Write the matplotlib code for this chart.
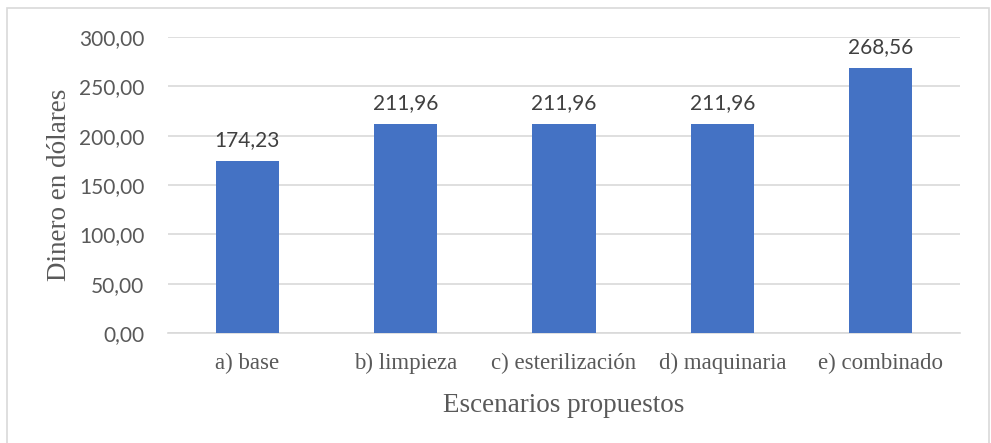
import matplotlib
matplotlib.use("Agg")
import matplotlib.pyplot as plt
from matplotlib.patches import Rectangle

categories = ["a) base", "b) limpieza", "c) esterilización", "d) maquinaria", "e) combinado"]
values = [174.23, 211.96, 211.96, 211.96, 268.56]
yticks = [0, 50, 100, 150, 200, 250, 300]

def fmt(v):
    return f"{v:,.2f}".replace(",", "X").replace(".", ",").replace("X", ".")

W, H = 991, 443
fig = plt.figure(figsize=(W / 100, H / 100), dpi=100)
ax = fig.add_axes([168 / W, 1 - 333 / H, (960 - 168) / W, (333 - 37) / H])

x = list(range(len(categories)))
ax.bar(x, values, width=0.4, color="#4472C4", zorder=3)
ax.set_xlim(-0.5, len(categories) - 0.5)
ax.set_ylim(0, 300)
ax.set_yticks(yticks)
ax.set_yticklabels([fmt(v) for v in yticks], fontfamily="Lato", fontsize=15, color="#595959")
ax.set_xticks(x)
ax.set_xticklabels(categories, fontfamily="Liberation Serif", fontsize=16.5, color="#595959")
ax.tick_params(axis="y", length=0, pad=17)
ax.tick_params(axis="x", length=0, pad=14)
ax.grid(axis="y", color="#D9D9D9", linewidth=1.2, zorder=0)
for s in ["top", "right", "left"]:
    ax.spines[s].set_visible(False)
ax.spines["bottom"].set_color("#D9D9D9")
ax.spines["bottom"].set_linewidth(1.2)

for xi, v in zip(x, values):
    ax.annotate(fmt(v), (xi, v), xytext=(0, 8), textcoords="offset points",
                ha="center", va="bottom", fontfamily="Lato", fontsize=15, color="#404040")

ax.set_ylabel("Dinero en dólares", fontfamily="Liberation Serif", fontsize=19.5, color="#595959", labelpad=5)
ax.set_xlabel("Escenarios propuestos", fontfamily="Liberation Serif", fontsize=19.5, color="#595959", labelpad=14)

fig.patches.append(Rectangle((7 / W, -0.01), (989 - 7) / W, 1 - 8 / H + 0.01,
                             transform=fig.transFigure, fill=False, edgecolor="#D9D9D9", linewidth=1.2))

fig.savefig("out.png", dpi=100, facecolor="white")
